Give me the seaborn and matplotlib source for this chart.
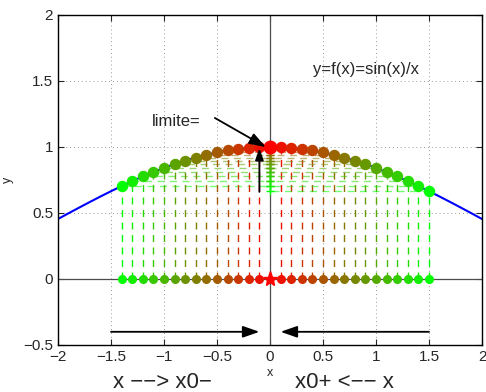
import matplotlib
matplotlib.use("Agg")
import matplotlib.pyplot as plt
import seaborn as sns
import pandas as pd

# ---- data ----
curve_x = [-2.0, -1.9, -1.8, -1.7, -1.6, -1.5, -1.4, -1.3, -1.2, -1.1, -1.0, -0.9, -0.8,
           -0.7, -0.6, -0.5, -0.4, -0.3, -0.2, -0.1, 0.0, 0.1, 0.2, 0.3, 0.4, 0.5, 0.6,
           0.7, 0.8, 0.9, 1.0, 1.1, 1.2, 1.3, 1.4, 1.5, 1.6, 1.7, 1.8, 1.9, 2.0]
curve_y = [0.4546, 0.4981, 0.5410, 0.5833, 0.6247, 0.6650, 0.7039, 0.7412, 0.7767, 0.8102,
           0.8415, 0.8704, 0.8967, 0.9203, 0.9411, 0.9589, 0.9735, 0.9851, 0.9933, 0.9983,
           1.0000, 0.9983, 0.9933, 0.9851, 0.9735, 0.9589, 0.9411, 0.9203, 0.8967, 0.8704,
           0.8415, 0.8102, 0.7767, 0.7412, 0.7039, 0.6650, 0.6247, 0.5833, 0.5410, 0.4981,
           0.4546]
left_x = [-1.4, -1.3, -1.2, -1.1, -1.0, -0.9, -0.8, -0.7, -0.6, -0.5, -0.4, -0.3, -0.2, -0.1]
left_y = [0.7039, 0.7412, 0.7767, 0.8102, 0.8415, 0.8704, 0.8967, 0.9203, 0.9411, 0.9589,
          0.9735, 0.9851, 0.9933, 0.9983]
right_x = [0.1, 0.2, 0.3, 0.4, 0.5, 0.6, 0.7, 0.8, 0.9, 1.0, 1.1, 1.2, 1.3, 1.4, 1.5]
right_y = [0.9983, 0.9933, 0.9851, 0.9735, 0.9589, 0.9411, 0.9203, 0.8967, 0.8704, 0.8415,
           0.8102, 0.7767, 0.7412, 0.7039, 0.6650]
x0 = 0.0
limit = 1.0

sns.set_style("ticks")
plt.rcParams['font.family'] = ['Liberation Sans', 'DejaVu Sans']

fig = plt.figure(figsize=(4.86, 3.92), dpi=100)
ax = fig.add_axes([58/486, 1-345/392, 424/486, 330/392])

ax.axhline(0, color='0.3', lw=0.9, zorder=1)
ax.axvline(0, color='0.3', lw=0.9, zorder=1)

df = pd.DataFrame({'x': curve_x, 'y': curve_y})
sns.lineplot(data=df, x='x', y='y', color='blue', lw=1.5, ax=ax, zorder=2, sort=False)

def colour(t):
    return (1 - t, t, 0.0)

for xs, ys in ((left_x, left_y), (right_x, right_y)):
    m = max(abs(v) for v in xs)
    for xv, yv in zip(xs, ys):
        c = colour(abs(xv) / m)
        ax.plot([xv, xv], [0, yv], ls=(0, (5, 4)), color=c, lw=1.0, zorder=2)
        ax.plot([xv, 0], [yv, yv], ls=(0, (5, 4)), color=c, lw=1.0, alpha=0.55, zorder=2)
        ax.plot([0], [yv], marker='+', color=c, ms=6, mew=1.0, zorder=3)
        ax.plot([xv], [yv], marker='o', color=c, ms=7.2, zorder=4)
        ax.plot([xv], [0], marker='o', color=c, ms=5.5, zorder=4)

ax.plot([x0], [limit], marker='o', color='red', ms=9, zorder=5)
ax.plot([x0], [0], marker='*', color='red', ms=11, zorder=5)

arrowprops = dict(arrowstyle='-|>,head_length=1.0,head_width=0.35', color='black', lw=1.3,
                  shrinkA=0, shrinkB=0)
small_arrow = dict(arrowstyle='-|>,head_length=0.7,head_width=0.25', color='black', lw=1.3,
                   shrinkA=0, shrinkB=0)
ax.annotate('', xy=(-0.1, -0.4), xytext=(-1.5, -0.4), arrowprops=arrowprops)
ax.annotate('', xy=(0.1, -0.4), xytext=(1.5, -0.4), arrowprops=arrowprops)
ax.annotate('', xy=(-0.1, 0.99), xytext=(-0.1, 0.66), arrowprops=small_arrow, zorder=6)
ax.annotate('', xy=(-0.04, 1.0), xytext=(-0.52, 1.22), arrowprops=arrowprops, zorder=6)

ax.text(-1.11, 1.19, 'limite=', fontsize=12, va='center', ha='left')
ax.text(0.41, 1.59, 'y=f(x)=sin(x)/x', fontsize=12, va='center', ha='left')

ax.set_xlim(-2, 2)
ax.set_ylim(-0.5, 2)
ax.set_xticks([-2, -1.5, -1, -0.5, 0, 0.5, 1, 1.5, 2])
ax.set_xticklabels(['\u22122', '\u22121.5', '\u22121', '\u22120.5', '0', '0.5', '1', '1.5', '2'])
ax.set_yticks([-0.5, 0, 0.5, 1, 1.5, 2])
ax.set_yticklabels(['\u22120.5', '0', '0.5', '1', '1.5', '2'])
ax.tick_params(direction='in', top=True, right=True, labelsize=11, length=4, width=0.8)
ax.grid(True, ls=(0, (1, 3)), color='0.6', lw=0.7)
for s in ax.spines.values():
    s.set_linewidth(1.0)
    s.set_color('black')

ax.set_xlabel('x', fontsize=9, labelpad=2)
ax.set_ylabel('y', fontsize=9)
ax.yaxis.set_label_coords(-0.105, 0.5)

fig.text(162/486, 1-383/392, 'x \u2212\u2212> x0\u2212', fontsize=16, ha='center', va='center')
fig.text(344/486, 1-383/392, 'x0+ <\u2212\u2212 x', fontsize=16, ha='center', va='center')

fig.savefig('out.png', dpi=100)
